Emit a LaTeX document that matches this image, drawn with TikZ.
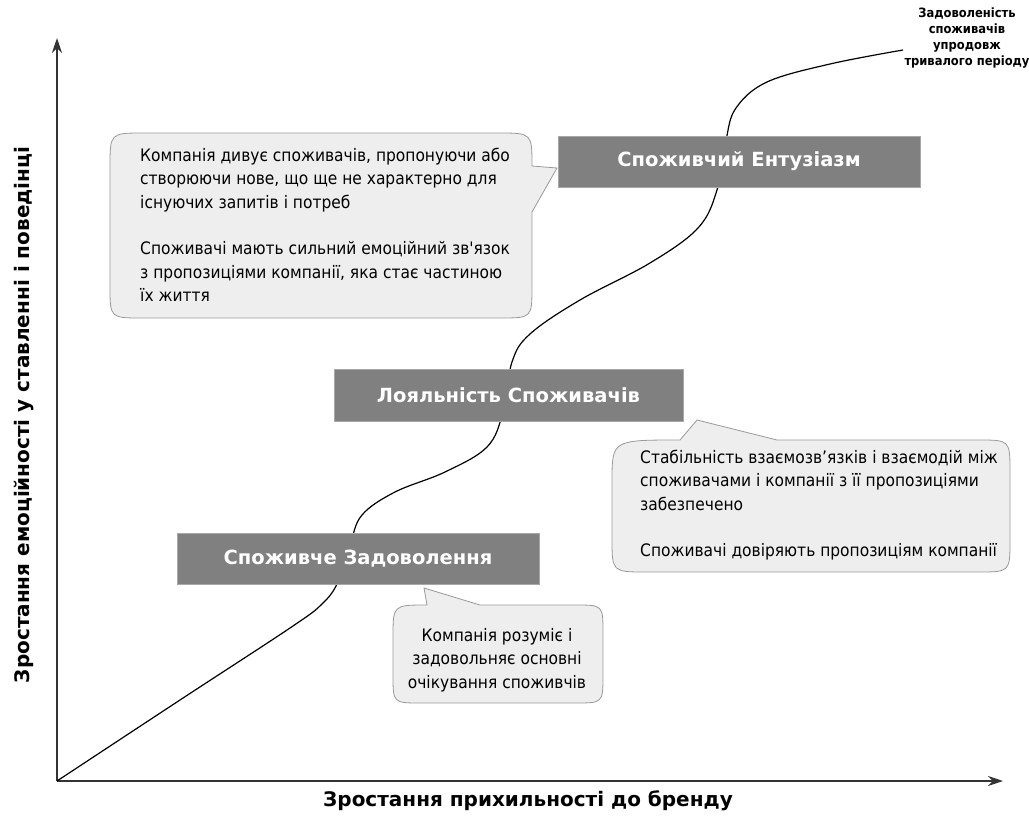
\documentclass[tikz,border=0pt]{standalone}
\usepackage{fontspec}
\setmainfont{DejaVu Sans Condensed}
\newfontfamily\widefont{DejaVu Sans}
\usetikzlibrary{arrows.meta}
\definecolor{boxgray}{HTML}{808080}
\definecolor{boxedge}{HTML}{A8A8A8}
\definecolor{notefill}{HTML}{EEEEEE}
\definecolor{noteedge}{HTML}{999999}
\definecolor{axisgray}{HTML}{333333}
\begin{document}
\begin{tikzpicture}[x=1pt,y=-1pt,
    stagebox/.style={draw=boxedge,fill=boxgray,text=white,inner sep=0pt,
        font=\widefont\fontsize{19.5}{23}\selectfont\bfseries},
    note/.style={draw=noteedge,fill=notefill,line width=0.8pt},
    notetext/.style={inner sep=0pt,font=\fontsize{17.2}{23.3}\selectfont},
    axislabel/.style={font=\widefont\fontsize{20}{24}\selectfont\bfseries},
    axisline/.style={draw=axisgray,line width=2pt,-{Stealth[length=15pt,width=10pt]}}]
    \useasboundingbox (0,0) rectangle (1029,816);

    % axes
    \coordinate (origin) at (57,781);
    \coordinate (ytop) at (57,38);
    \coordinate (xend) at (1003,781);
    \draw[axisline] (origin) -- (ytop);
    \draw[axisline] (origin) -- (xend);
    \node[axislabel] (xlabel) at (528,801) {Зростання прихильності до бренду};
    \node[axislabel,rotate=90] (ylabel) at (24,415) {Зростання емоційності у ставленні і поведінці};

    % curve
    \draw[line width=1.2pt] plot[smooth,tension=0.6] coordinates {(57,781) (180,700) (290,628) (322,604) (338,582) (350,545) (362,515) (395,492) (445,472) (487,447) (503,412) (512,362) (530,334) (580,300) (650,263) (698,228) (717,190) (726,140) (736,108) (767,82) (830,64) (903,50)};

    % callouts
    \draw[note] (144,133) -- (498,133) .. controls (532,133) .. (532,166) -- (557,168) -- (532,212) -- (532,286) .. controls (532,318) .. (500,318) -- (142,318) .. controls (110,318) .. (110,286) -- (110,167) .. controls (110,133) .. (144,133) -- cycle;
    \draw[note] (680,440) -- (697,420) -- (777,440) -- (978,440) .. controls (1010,440) .. (1010,472) -- (1010,540) .. controls (1010,572) .. (978,572) -- (646,572) .. controls (612,572) .. (612,538) -- (612,482) .. controls (612,440) .. (680,440) -- cycle;
    \draw[note] (427,605) -- (424,588) -- (480,605) -- (575,605) .. controls (603,605) .. (603,633) -- (603,675) .. controls (603,703) .. (575,703) -- (421,703) .. controls (393,703) .. (393,675) -- (393,637) .. controls (393,605) .. (427,605) -- cycle;

    % stages
    \node[stagebox,minimum width=362pt,minimum height=51pt] (satisf) at (358,558.5) {Споживче Задоволення};
    \node[stagebox,minimum width=349pt,minimum height=52pt] (loyal) at (508.5,395) {Лояльність Споживачів};
    \node[stagebox,minimum width=362pt,minimum height=51pt] (enthus) at (739,161.5) {Споживчий Ентузіазм};

    % texts
    \node[notetext,align=left,anchor=north west] (noteA) at (140,148) {Компанія дивує споживачів, пропонуючи або\\створюючи нове, що ще не характерно для\\існуючих запитів і потреб\\[23.3pt]Споживачі мають сильний емоційний зв\textquotesingle язок\\з пропозиціями компанії, яка стає частиною\\їх життя};
    \node[notetext,align=left,anchor=north west] (noteB) at (640,450) {Стабільність взаємозв’язків і взаємодій між\\споживачами і компанії з її пропозиціями\\забезпечено\\[23.3pt]Споживачі довіряють пропозиціям компанії};
    \node[notetext,align=center] (noteC) at (497,660) {Компанія розуміє і\\задовольняє основні\\очікування споживчів};
    \node[align=center,inner sep=0pt,font=\fontsize{12.8}{15.7}\selectfont\bfseries] (endlabel) at (967,38) {Задоволеність\\споживачів\\упродовж\\тривалого періоду};
\end{tikzpicture}
\end{document}
